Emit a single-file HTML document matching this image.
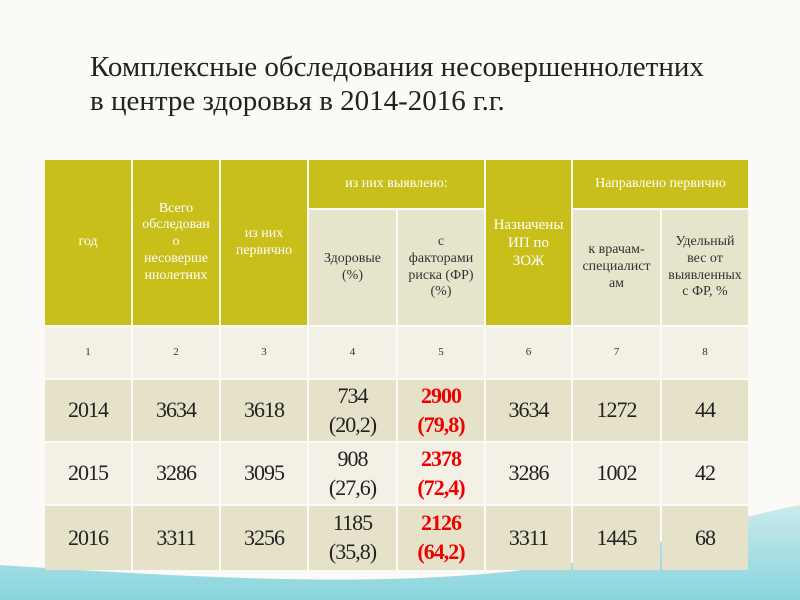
<!DOCTYPE html>
<html><head><meta charset="utf-8">
<style>
body{margin:0;width:800px;height:600px;overflow:hidden;position:relative;background:#fbfaf6;font-family:"Liberation Serif","Noto Serif CJK SC",serif}
.c{position:absolute;display:flex;align-items:center;justify-content:center;text-align:center;box-sizing:border-box;line-height:1.2}
.h{background:#c9bf1b;color:#fff;font-size:14px}
.s{background:#e7e4cc;color:#333;font-size:14px}
.n{background:#f3f1e6;color:#333;font-size:11px}
.d1{background:#e6e2c9}
.d2{background:#f3f1e5}
.d{color:#222;font-size:22px;letter-spacing:-1px;line-height:1.3}
.r{color:#e00;font-weight:bold}
</style></head><body>
<svg style="position:absolute;left:0;top:0" width="800" height="600">
<defs><linearGradient id="g" x1="0" y1="0" x2="0" y2="1"><stop offset="0" stop-color="#bfe6ea"/><stop offset="1" stop-color="#6ccbd6"/></linearGradient></defs>
<path d="M0 565 C200 578 400 590 560 565 C650 550 720 520 800 505 L800 600 L0 600 Z" fill="url(#g)" opacity="0.8"/>
</svg>
<div style="position:absolute;left:90px;top:50px;font-size:29px;line-height:34px;color:#222;white-space:nowrap">Комплексные обследования несовершеннолетних<br>в центре здоровья в 2014-2016 г.г.</div>
<div id="t"></div>
<script>
const X=[45,133,221,309,398,486,573,662,750];
const Y=[160,210,327,380,443,506,572];
const years=["2014","2015","2016"];
const total=["3634","3286","3311"];
const primary=["3618","3095","3256"];
const healthy=["734<br>(20,2)","908<br>(27,6)","1185<br>(35,8)"];
const risk=["2900<br>(79,8)","2378<br>(72,4)","2126<br>(64,2)"];
const zoj=["3634","3286","3311"];
const doctors=["1272","1002","1445"];
const share=["44","42","68"];
const t=document.getElementById('t');
function cell(c0,c1,r0,r1,cls,html,name){
 const e=document.createElement('div');
 e.className='c '+cls;
 e.style.left=X[c0]+'px';e.style.width=(X[c1]-X[c0]-2)+'px';
 e.style.top=Y[r0]+'px';e.style.height=(Y[r1]-Y[r0]-2)+'px';
 e.innerHTML=html;
 
 
 t.appendChild(e);
}
cell(0,1,0,2,'h','год','header-year');
cell(1,2,0,2,'h','Всего<br>обследован<br>о<br>несоверше<br>ннолетних','header-total');
cell(2,3,0,2,'h','из них<br>первично','header-primary');
cell(3,5,0,1,'h','из них выявлено:','header-detected');
cell(3,4,1,2,'s','Здоровые<br>(%)','header-healthy');
cell(4,5,1,2,'s','с<br>факторами<br>риска (ФР)<br>(%)','header-risk');
cell(5,6,0,2,'h','<span style="font-size:15px">Назначены<br>ИП по<br>ЗОЖ</span>','header-zoj');
cell(6,8,0,1,'h','Направлено первично','header-referred');
cell(6,7,1,2,'s','к врачам-<br>специалист<br>ам','header-doctors');
cell(7,8,1,2,'s','Удельный<br>вес от<br>выявленных<br>с ФР, %','header-share');
for(let i=0;i<8;i++)cell(i,i+1,2,3,'n',String(i+1),'column-number');
const cols=[years,total,primary,healthy,risk,zoj,doctors,share];
for(let r=0;r<3;r++){
 for(let c=0;c<8;c++){
  cell(c,c+1,3+r,4+r,'d '+(r==1?'d2':'d1')+(c==4?' r':''),cols[c][r],'cell-'+years[r]+'-col'+(c+1));
 }
}
</script>
</body></html>
